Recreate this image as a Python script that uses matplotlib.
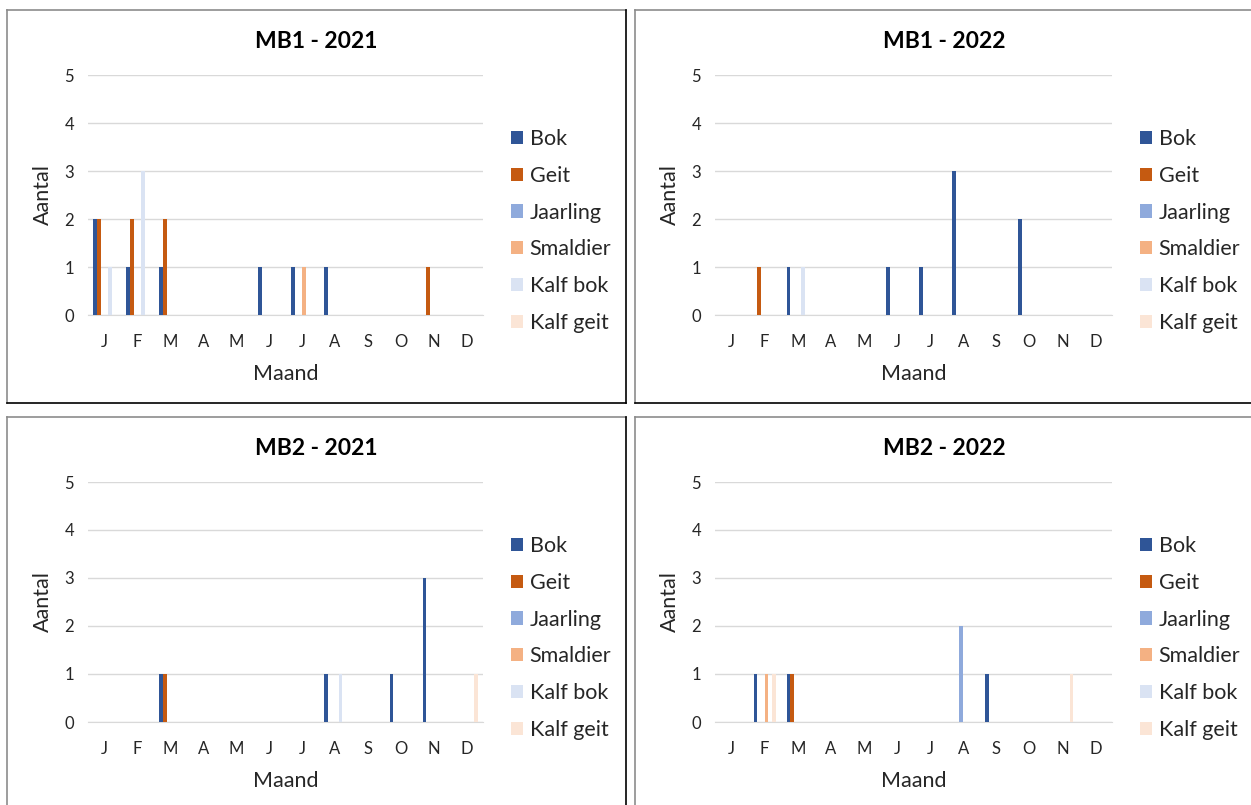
import numpy as np
import matplotlib
matplotlib.use("Agg")
import matplotlib.pyplot as plt
from matplotlib.lines import Line2D

plt.rcParams['font.family'] = ['Lato', 'DejaVu Sans']

months = ["J", "F", "M", "A", "M", "J", "J", "A", "S", "O", "N", "D"]
series = ["Bok", "Geit", "Jaarling", "Smaldier", "Kalf bok", "Kalf geit"]
colors = ["#2F5597", "#C55A11", "#8FAADC", "#F4B183", "#DAE3F3", "#FBE5D6"]

# Counts per month (Jan..Dec) for each category
mb1_2021_bok      = [2, 1, 1, 0, 0, 1, 1, 1, 0, 0, 0, 0]
mb1_2021_geit     = [2, 2, 2, 0, 0, 0, 0, 0, 0, 0, 1, 0]
mb1_2021_jaarling = [0, 0, 0, 0, 0, 0, 0, 0, 0, 0, 0, 0]
mb1_2021_smaldier = [0, 0, 0, 0, 0, 0, 1, 0, 0, 0, 0, 0]
mb1_2021_kalfbok  = [1, 3, 0, 0, 0, 0, 0, 0, 0, 0, 0, 0]
mb1_2021_kalfgeit = [0, 0, 0, 0, 0, 0, 0, 0, 0, 0, 0, 0]

mb1_2022_bok      = [0, 0, 1, 0, 0, 1, 1, 3, 0, 2, 0, 0]
mb1_2022_geit     = [0, 1, 0, 0, 0, 0, 0, 0, 0, 0, 0, 0]
mb1_2022_jaarling = [0, 0, 0, 0, 0, 0, 0, 0, 0, 0, 0, 0]
mb1_2022_smaldier = [0, 0, 0, 0, 0, 0, 0, 0, 0, 0, 0, 0]
mb1_2022_kalfbok  = [0, 0, 1, 0, 0, 0, 0, 0, 0, 0, 0, 0]
mb1_2022_kalfgeit = [0, 0, 0, 0, 0, 0, 0, 0, 0, 0, 0, 0]

mb2_2021_bok      = [0, 0, 1, 0, 0, 0, 0, 1, 0, 1, 3, 0]
mb2_2021_geit     = [0, 0, 1, 0, 0, 0, 0, 0, 0, 0, 0, 0]
mb2_2021_jaarling = [0, 0, 0, 0, 0, 0, 0, 0, 0, 0, 0, 0]
mb2_2021_smaldier = [0, 0, 0, 0, 0, 0, 0, 0, 0, 0, 0, 0]
mb2_2021_kalfbok  = [0, 0, 0, 0, 0, 0, 0, 1, 0, 0, 0, 0]
mb2_2021_kalfgeit = [0, 0, 0, 0, 0, 0, 0, 0, 0, 0, 0, 1]

mb2_2022_bok      = [0, 1, 1, 0, 0, 0, 0, 0, 1, 0, 0, 0]
mb2_2022_geit     = [0, 0, 1, 0, 0, 0, 0, 0, 0, 0, 0, 0]
mb2_2022_jaarling = [0, 0, 0, 0, 0, 0, 0, 2, 0, 0, 0, 0]
mb2_2022_smaldier = [0, 1, 0, 0, 0, 0, 0, 0, 0, 0, 0, 0]
mb2_2022_kalfbok  = [0, 0, 0, 0, 0, 0, 0, 0, 0, 0, 0, 0]
mb2_2022_kalfgeit = [0, 1, 0, 0, 0, 0, 0, 0, 0, 0, 1, 0]

panels = [
    ("MB1 - 2021", [mb1_2021_bok, mb1_2021_geit, mb1_2021_jaarling,
                    mb1_2021_smaldier, mb1_2021_kalfbok, mb1_2021_kalfgeit]),
    ("MB1 - 2022", [mb1_2022_bok, mb1_2022_geit, mb1_2022_jaarling,
                    mb1_2022_smaldier, mb1_2022_kalfbok, mb1_2022_kalfgeit]),
    ("MB2 - 2021", [mb2_2021_bok, mb2_2021_geit, mb2_2021_jaarling,
                    mb2_2021_smaldier, mb2_2021_kalfbok, mb2_2021_kalfgeit]),
    ("MB2 - 2022", [mb2_2022_bok, mb2_2022_geit, mb2_2022_jaarling,
                    mb2_2022_smaldier, mb2_2022_kalfbok, mb2_2022_kalfgeit]),
]

W, H = 1251, 805
fig = plt.figure(figsize=(W / 100, H / 100), dpi=100)

def fx(px):
    return px / W

def fy(py):
    return 1 - py / H

# chart frames: (left, top, right, bottom) in pixels
frames = [(7, 10, 626, 403), (635, 10, 1262, 403),
          (7, 417, 626, 815), (635, 417, 1262, 815)]
# plot areas: (left, top, right, bottom) in pixels
plots = [(88, 75, 483, 315), (715, 75, 1112, 315),
         (88, 482, 483, 722), (715, 482, 1112, 722)]

n = len(series)
gap = 0.5
bw = 1.0 / (1 + gap) / n
x = np.arange(len(months))
text_color = "#262626"

for (title, data), fr, pl in zip(panels, frames, plots):
    l, t, r, b = fr
    # frame with grey top/left and dark bottom/right edges
    fig.add_artist(Line2D([fx(l), fx(r)], [fy(t), fy(t)], color="#8C8C8C", lw=1.2))
    fig.add_artist(Line2D([fx(l), fx(l)], [fy(t), fy(b)], color="#8C8C8C", lw=1.2))
    fig.add_artist(Line2D([fx(l), fx(r)], [fy(b), fy(b)], color="#000000", lw=1.2))
    fig.add_artist(Line2D([fx(r), fx(r)], [fy(t), fy(b)], color="#000000", lw=1.2))

    pl_l, pl_t, pl_r, pl_b = pl
    ax = fig.add_axes([fx(pl_l), fy(pl_b), fx(pl_r - pl_l), (pl_b - pl_t) / H])
    handles = []
    for i, (name, vals, c) in enumerate(zip(series, data, colors)):
        bars = ax.bar(x + (i - (n - 1) / 2) * bw, vals, width=bw, color=c,
                      label=name, zorder=3, linewidth=0)
        handles.append(bars)
    ax.set_xlim(-0.5, len(months) - 0.5)
    ax.set_ylim(0, 5)
    ax.set_yticks(range(6))
    ax.set_xticks(x)
    ax.set_xticklabels(months)
    ax.yaxis.grid(True, color="#D9D9D9", lw=1, zorder=0)
    ax.set_axisbelow(True)
    for s in ["top", "right", "left"]:
        ax.spines[s].set_visible(False)
    ax.spines["bottom"].set_color("#D9D9D9")
    ax.tick_params(axis="both", length=0, labelsize=12, labelcolor=text_color)
    ax.tick_params(axis="x", pad=13.5)
    ax.tick_params(axis="y", pad=10)
    ax.set_xlabel("Maand", fontsize=15.5, color=text_color, labelpad=10)
    ax.set_ylabel("Aantal", fontsize=15.5, color=text_color, labelpad=8)

    fig.text(fx((l + min(r, W + 2)) / 2), fy(t + 31), title, ha="center", va="center",
             fontsize=16.5, fontweight="bold", color="#000000")

    ax.legend(handles=handles, loc="center left",
              bbox_to_anchor=(fx(pl_r + 28), fy(t + 221)),
              bbox_transform=fig.transFigure, frameon=False, fontsize=15.5,
              labelcolor=text_color,
              handlelength=0.56, handleheight=0.56, handletextpad=0.3,
              labelspacing=0.78, borderaxespad=0, borderpad=0)

fig.savefig("out.png", dpi=100, facecolor="white")
